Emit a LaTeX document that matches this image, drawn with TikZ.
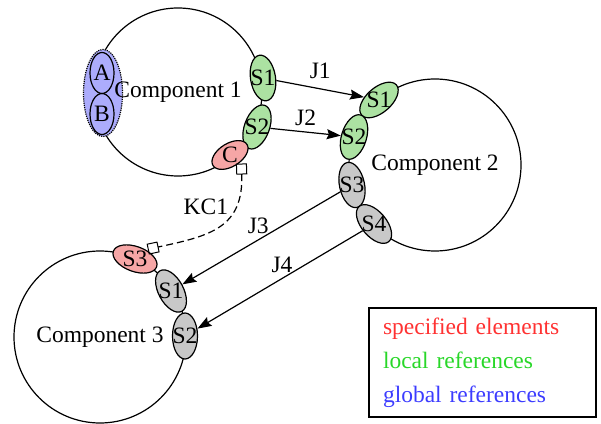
\documentclass[tikz,border=0pt]{standalone}
\usepackage{fontspec}
\setmainfont{Liberation Serif}
\usepackage{xcolor}
\usetikzlibrary{arrows.meta,shapes.geometric}
\definecolor{specfill}{RGB}{246,166,166}
\definecolor{locfill}{RGB}{172,226,162}
\definecolor{globfill}{RGB}{172,172,252}
\definecolor{greyfill}{RGB}{200,200,200}
\definecolor{spectext}{RGB}{255,50,50}
\definecolor{loctext}{RGB}{40,215,40}
\definecolor{globtext}{RGB}{60,60,255}
% upright text inside a rotated node
\newcommand{\uptxt}[2]{\rotatebox{#1}{\makebox[0pt]{\raisebox{-.33em}[0pt][0pt]{#2}}}}

\begin{document}
\begin{tikzpicture}[x=1pt, y=1pt, line width=1.2pt, font=\fontsize{23.5}{28}\selectfont]
\useasboundingbox (0,0) rectangle (601,423);
\tikzstyle{comp} = [circle, draw, inner sep=0pt]
\tikzstyle{elem} = [ellipse, draw, minimum width=46, minimum height=25, inner sep=0pt]
\tikzstyle{spec} = [elem, fill=specfill]
\tikzstyle{loc} = [elem, fill=locfill]
\tikzstyle{other} = [elem, fill=greyfill]
\tikzstyle{jarrow} = [-{Stealth[length=14pt, width=10pt, inset=2pt]}]
% components
\node[comp, minimum size=168] (c1) at (178,331) {};
\node[comp, minimum size=172] (c2) at (435,258) {};
\node[comp, minimum size=172] (c3) at (100,86) {};
% component 1
\node[ellipse, draw, densely dotted, fill=globfill, minimum width=39, minimum height=87] (ab) at (103,330) {};
\node[ellipse, draw, minimum width=24, minimum height=41, inner sep=0pt] (a) at (102,350) {A};
\node[ellipse, draw, minimum width=24, minimum height=41, inner sep=0pt] (b) at (102,309) {B};
\node[loc, rotate=99] (c1s1) at (263,345) {\uptxt{-99}{S1}};
\node[loc, rotate=70] (c1s2) at (257,296) {\uptxt{-70}{S2}};
\node[spec, rotate=32, minimum width=40, minimum height=23] (c1c) at (230,268) {\uptxt{-32}{C}};
% component 2
\node[loc, rotate=41] (c2s1) at (379,323) {\uptxt{-41}{S1}};
\node[loc, rotate=73] (c2s2) at (354,286) {\uptxt{-73}{S2}};
\node[other, rotate=102] (c2s3) at (352,238) {\uptxt{-102}{S3}};
\node[other, rotate=130] (c2s4) at (374,199) {\uptxt{-130}{S4}};
% component 3
\node[spec, rotate=-20] (c3s3) at (135,164) {\uptxt{20}{S3}};
\node[other, rotate=118] (c3s1) at (171,132) {\uptxt{-118}{S1}};
\node[other, rotate=90] (c3s2) at (185,87) {\uptxt{-90}{S2}};
% names
\node (n1) at (c1) {Component 1};
\node (n2) at (c2) {Component 2};
\node (n3) at (c3) {Component 3};
% joins
\draw[jarrow] (c1s1) -- (c2s1) node[midway, above=6pt] {J1};
\draw[jarrow] (c1s2) -- (c2s2) node[midway, above=2pt] {J2};
\draw[jarrow] (c2s3) -- (c3s1) node[midway, above, xshift=-3pt] {J3};
\draw[jarrow] (c2s4) -- (c3s2) node[midway, above=3pt, xshift=2pt] {J4};
% constraint
\draw[dash pattern=on 7pt off 4pt, {Square[open, length=11pt, width=11pt, line width=1pt]}-{Square[open, length=11pt, width=11pt, line width=1pt]}, shorten <=2pt, shorten >=2pt] (c1c.-62) to[out=-88, in=12, looseness=1.3] node[pos=0.3, left=2pt] {KC1} (c3s3.61);
% legend
\node[draw, align=left, text width=199, inner xsep=14, minimum height=109, font=\fontsize{23.5}{34}\selectfont] (legend) at (482.5,60.5) {\textcolor{spectext}{specified elements}\\\textcolor{loctext}{local references}\\\textcolor{globtext}{global references}};
\end{tikzpicture}
\end{document}
